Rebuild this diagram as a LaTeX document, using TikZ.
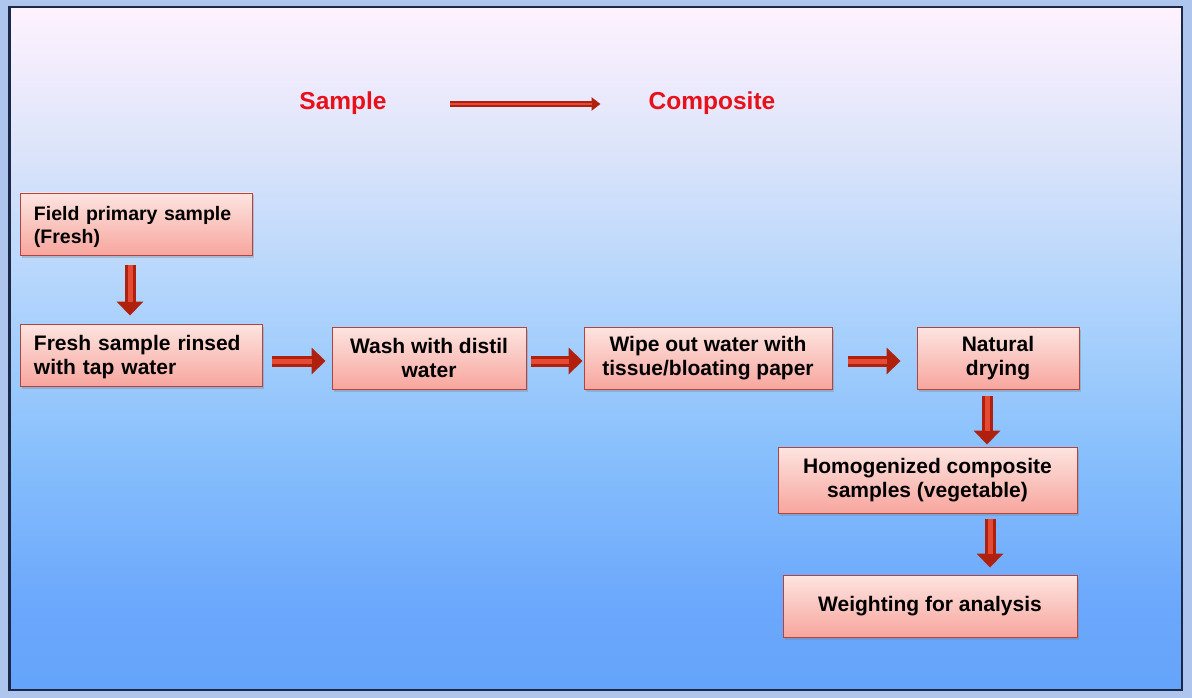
\documentclass[tikz,border=0pt]{standalone}
\usepackage{fontspec}
\setmainfont{Liberation Sans}
\usetikzlibrary{arrows.meta,shadows}
\definecolor{outerbg}{HTML}{AEC6EE}
\definecolor{frame}{HTML}{1C2848}
\definecolor{bgA}{HTML}{64A4FA}
\definecolor{bgB}{HTML}{6CA8FC}
\definecolor{bgC}{HTML}{88C0FC}
\definecolor{bgD}{HTML}{B0D4FC}
\definecolor{bgE}{HTML}{DCE4FA}
\definecolor{bgF}{HTML}{FFF2FE}
\definecolor{boxtop}{HTML}{FDE4E0}
\definecolor{boxbot}{HTML}{F7A69E}
\definecolor{boxline}{HTML}{B04440}
\definecolor{arrdark}{HTML}{B0200F}
\definecolor{arrlight}{HTML}{E44A34}
\definecolor{headred}{HTML}{E8101A}
\pgfdeclareverticalshading{bgshade}{100bp}{color(0bp)=(bgA); color(25bp)=(bgA); color(31.5bp)=(bgB); color(42.5bp)=(bgC); color(53.5bp)=(bgD); color(64.5bp)=(bgE); color(75bp)=(bgF); color(100bp)=(bgF)}
\tikzset{
  stepbox/.style={rectangle, draw=boxline, line width=0.9pt, top color=boxtop, bottom color=boxbot,
    drop shadow={shadow xshift=2pt, shadow yshift=-2.5pt, opacity=0.35},
    font=\fontsize{21}{24}\selectfont\bfseries, text=black, inner ysep=0pt},
  leftbox/.style={stepbox, align=left, inner xsep=14pt, minimum height=62pt},
  midbox/.style={stepbox, align=center, inner xsep=2pt},
  blockarrow/.style={line width=11pt, draw=arrdark, -{Triangle[width=26pt,length=14pt]},
    postaction={draw=arrlight, line width=5pt, shorten >=14pt, -}},
  headtext/.style={font=\fontsize{24.5}{28}\selectfont\bfseries, text=headred, inner sep=0pt},
  headarrow/.style={line width=5.5pt, draw=arrdark, -{Triangle[width=13pt,length=9pt]},
    postaction={draw=arrlight, line width=2pt, shorten >=9pt, -}}
}
\begin{document}
\begin{tikzpicture}[x=1pt,y=-1pt]
\fill[outerbg] (0,0) rectangle (1192,698);
\useasboundingbox (0,0) rectangle (1192,698);
\shade[shading=bgshade] (9.5,7) rectangle (1182,690);
\draw[frame, line width=2.5pt] (9.5,7) rectangle (1182,690);

\node[headtext] (s) at (343,103) {Sample};
\node[headtext] (c) at (712,103) {Composite};
\draw[headarrow] ([xshift=63pt,yshift=-1pt]s.east) -- ([xshift=-48pt,yshift=-1pt]c.west);

\node[leftbox, text width=204pt, font=\fontsize{19.5}{23}\selectfont\bfseries] (n1) at (136,224) {\rule{0pt}{20pt}Field primary sample\\(Fresh)};
\node[leftbox, text width=214pt] (n2) at (141,355) {\rule{0pt}{19.5pt}Fresh sample rinsed\\with tap water};
\node[midbox, minimum width=194pt, minimum height=62pt] (n3) at (429,358) {Wash with distil\\water};
\node[midbox, minimum width=248pt, minimum height=62pt] (n4) at (708,358) {Wipe out water with\\tissue/bloating paper};
\node[midbox, minimum width=162pt, minimum height=62pt] (n5) at (998,358) {Natural\\drying};
\node[midbox, minimum width=299pt, minimum height=66pt] (n6) at (927.5,480) {Homogenized composite\\samples (vegetable)};
\node[midbox, minimum width=294pt, minimum height=62pt] (n7) at (930,606) {Weighting for analysis};

\draw[blockarrow] ([xshift=-6pt,yshift=-10pt]n1.south) -- ([xshift=-11pt,yshift=8pt]n2.north);
\draw[blockarrow] ([xshift=10pt,yshift=-6pt]n2.east) -- ([xshift=-6pt,yshift=-3pt]n3.west);
\draw[blockarrow] ([xshift=5pt,yshift=-3pt]n3.east) -- ([xshift=-1pt,yshift=-3pt]n4.west);
\draw[blockarrow] ([xshift=16pt,yshift=-3pt]n4.east) -- ([xshift=-16pt,yshift=-3pt]n5.west);
\draw[blockarrow] ([xshift=-11pt,yshift=-7pt]n5.south) -- ([xshift=59.5pt,yshift=2pt]n6.north);
\draw[blockarrow] ([xshift=62.5pt,yshift=-6pt]n6.south) -- ([xshift=60pt,yshift=7pt]n7.north);
\end{tikzpicture}
\end{document}
